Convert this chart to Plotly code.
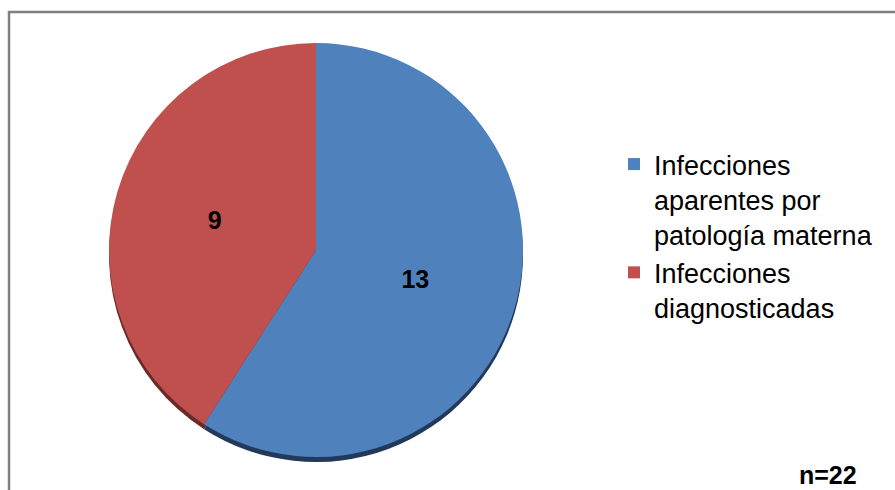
import plotly.graph_objects as go

labels = ["Infecciones<br>aparentes por<br>patología materna",
          "Infecciones<br>diagnosticadas"]
values = [13, 9]
colors = ["#4F81BD", "#C0504D"]
edge_colors = ["#22395A", "#6B2A28"]
sample_note = "n=22"

W, H = 895, 490
cx, cy, r = 316, 250, 207
FONT = "Liberation Sans, Arial"


def pie_domain(x, y, rad):
    return dict(x=[(x - rad) / W, (x + rad) / W],
                y=[(H - y - rad) / H, (H - y + rad) / H])


fig = go.Figure()

# darker copy underneath gives the thin 3D rim at the bottom
fig.add_trace(go.Pie(labels=labels, values=values, sort=False,
                     direction="clockwise", rotation=0, showlegend=False,
                     marker=dict(colors=edge_colors, line=dict(width=0)),
                     textinfo="none", hoverinfo="skip",
                     domain=pie_domain(cx, cy + 5, r)))

fig.add_trace(go.Pie(labels=labels, values=values, sort=False,
                     direction="clockwise", rotation=0,
                     marker=dict(colors=colors, line=dict(width=0)),
                     texttemplate="<b>%{value}</b>", textposition="inside",
                     insidetextorientation="horizontal",
                     textfont=dict(size=25, color="black", family=FONT),
                     hoverinfo="label+value",
                     domain=pie_domain(cx, cy, r)))

# chart frame (cut off at right and bottom like the original)
fig.add_shape(type="rect", xref="paper", yref="paper",
              x0=9 / W, x1=1.05, y0=-0.05, y1=1 - 12 / H,
              line=dict(color="#808080", width=2.5))

fig.add_annotation(text="<b>" + sample_note + "</b>", xref="paper", yref="paper",
                   x=828 / W, y=1 - 475 / H, xanchor="center", yanchor="middle",
                   showarrow=False,
                   font=dict(size=25, color="black", family=FONT))

fig.update_layout(width=W, height=H, margin=dict(l=0, r=0, t=0, b=0),
                  paper_bgcolor="white", plot_bgcolor="white",
                  showlegend=True,
                  legend=dict(x=614 / W, y=1 - 140 / H, xanchor="left", yanchor="top",
                              valign="top", tracegroupgap=14,
                              font=dict(size=27, color="black", family=FONT)))

fig.write_html("out.html", config={"displayModeBar": False})

# drop the default body margin so the figure sits at the page corner
with open("out.html", encoding="utf-8") as f:
    html = f.read()
html = html.replace("<body>", '<body style="margin:0;overflow:hidden">', 1)
with open("out.html", "w", encoding="utf-8") as f:
    f.write(html)
